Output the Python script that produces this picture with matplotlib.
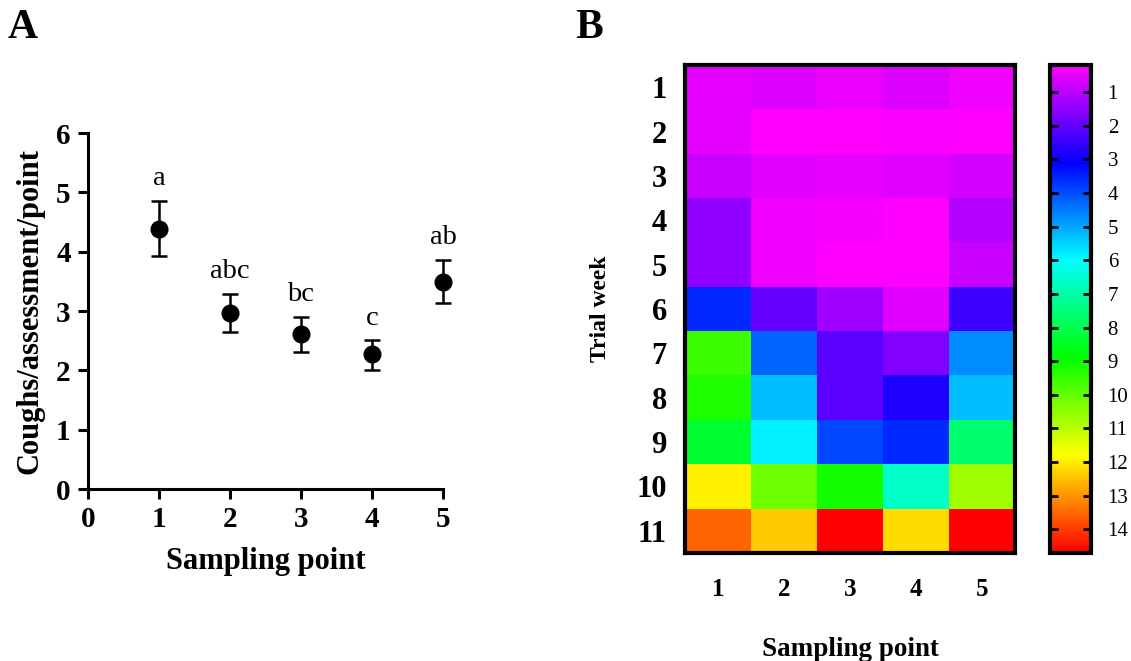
import numpy as np
import matplotlib
matplotlib.use("Agg")
import matplotlib.pyplot as plt
from matplotlib.colors import LinearSegmentedColormap

plt.rcParams['font.family'] = ['Liberation Serif', 'DejaVu Serif']

# Panel A data
sampling_points = [1, 2, 3, 4, 5]
coughs_mean = [4.39, 2.97, 2.61, 2.27, 3.49]
err_low = [3.93, 2.65, 2.31, 2.00, 3.13]
err_high = [4.86, 3.29, 2.90, 2.51, 3.86]
letters = ["a", "abc", "bc", "c", "ab"]

# Panel B data (rows: trial week 1..11, cols: sampling point 1..5)
trial_weeks = list(range(1, 12))
heat_values = np.array([
    [0.51, 0.60, 0.46, 0.62, 0.37],
    [0.51, 0.20, 0.20, 0.28, 0.20],
    [0.83, 0.55, 0.51, 0.55, 0.71],
    [1.46, 0.37, 0.33, 0.20, 1.05],
    [1.46, 0.37, 0.20, 0.20, 0.83],
    [3.55, 1.96, 1.28, 0.55, 2.42],
    [9.58, 4.23, 2.08, 1.64, 4.69],
    [9.24, 5.26, 2.08, 2.76, 5.26],
    [8.33, 5.83, 3.90, 3.55, 7.65],
    [11.97, 10.15, 9.13, 6.63, 10.72],
    [13.56, 12.43, 14.70, 12.20, 14.70],
])
cbar_ticks = list(range(1, 15))

fig = plt.figure(figsize=(11.31, 6.61), dpi=100)

# ---------- Panel A ----------
axA = fig.add_axes([88/1131, 1-489/661, (443-88)/1131, (489-133)/661])
yerr = [np.array(coughs_mean) - np.array(err_low), np.array(err_high) - np.array(coughs_mean)]
axA.errorbar(sampling_points, coughs_mean, yerr=yerr, fmt='o', color='black',
             markersize=12, capsize=5.5, elinewidth=1.8, capthick=1.8, clip_on=False)
for x, hi, lab in zip(sampling_points, err_high, letters):
    axA.text(x, hi + 0.16, lab, ha='center', va='bottom', fontsize=20.5)
axA.set_xlim(0, 5)
axA.set_ylim(0, 6)
axA.set_xticks(range(0, 6))
axA.set_yticks(range(0, 7))
for s in ['top', 'right']:
    axA.spines[s].set_visible(False)
for s in ['left', 'bottom']:
    axA.spines[s].set_linewidth(2.2)
axA.tick_params(direction='out', length=7.5, width=2.2, labelsize=21, pad=5)
for lbl in axA.get_xticklabels() + axA.get_yticklabels():
    lbl.set_fontweight('bold')
axA.set_xlabel("Sampling point", fontsize=22, fontweight='bold', labelpad=10)
axA.set_ylabel("Coughs/assessment/point", fontsize=22, fontweight='bold', labelpad=8)

fig.text(8/1131, 1-28/661, "A", fontsize=30, fontweight='bold', va='center', ha='left')
fig.text(575/1131, 1-28/661, "B", fontsize=30, fontweight='bold', va='center', ha='left')

# ---------- Panel B ----------
hsv_colors = ['#ff00ff', '#0000ff', '#00ffff', '#00ff00', '#ffff00', '#ff0000']
cmap = LinearSegmentedColormap.from_list('hue', hsv_colors)
vmin, vmax = 0.2, 14.7

axB = fig.add_axes([685/1131, 1-553/661, (1015-685)/1131, (553-65)/661])
im = axB.imshow(heat_values, cmap=cmap, vmin=vmin, vmax=vmax, aspect='auto',
                interpolation='nearest')
axB.set_xticks(range(5))
axB.set_xticklabels([str(s) for s in sampling_points])
axB.set_yticks(range(len(trial_weeks)))
axB.set_yticklabels([str(w) for w in trial_weeks])
axB.tick_params(length=0)
axB.tick_params(axis='x', labelsize=18, pad=18)
axB.tick_params(axis='y', labelsize=22, pad=13)
for lbl in axB.get_xticklabels() + axB.get_yticklabels():
    lbl.set_fontweight('bold')
for s in axB.spines.values():
    s.set_linewidth(3)
axB.set_xlabel("Sampling point", fontsize=19.5, fontweight='bold', labelpad=26)
axB.set_ylabel("Trial week", fontsize=17, fontweight='bold', labelpad=18)

cax = fig.add_axes([1050/1131, 1-553/661, 41/1131, (553-65)/661])
cb = fig.colorbar(im, cax=cax)
cb.set_ticks(cbar_ticks)
cax.invert_yaxis()
cb.outline.set_linewidth(3)
cax.tick_params(which='both', direction='in', length=6, width=2, left=True, right=True,
                labelsize=15, pad=12)
cax.minorticks_off()

fig.savefig("out.png", dpi=100)
